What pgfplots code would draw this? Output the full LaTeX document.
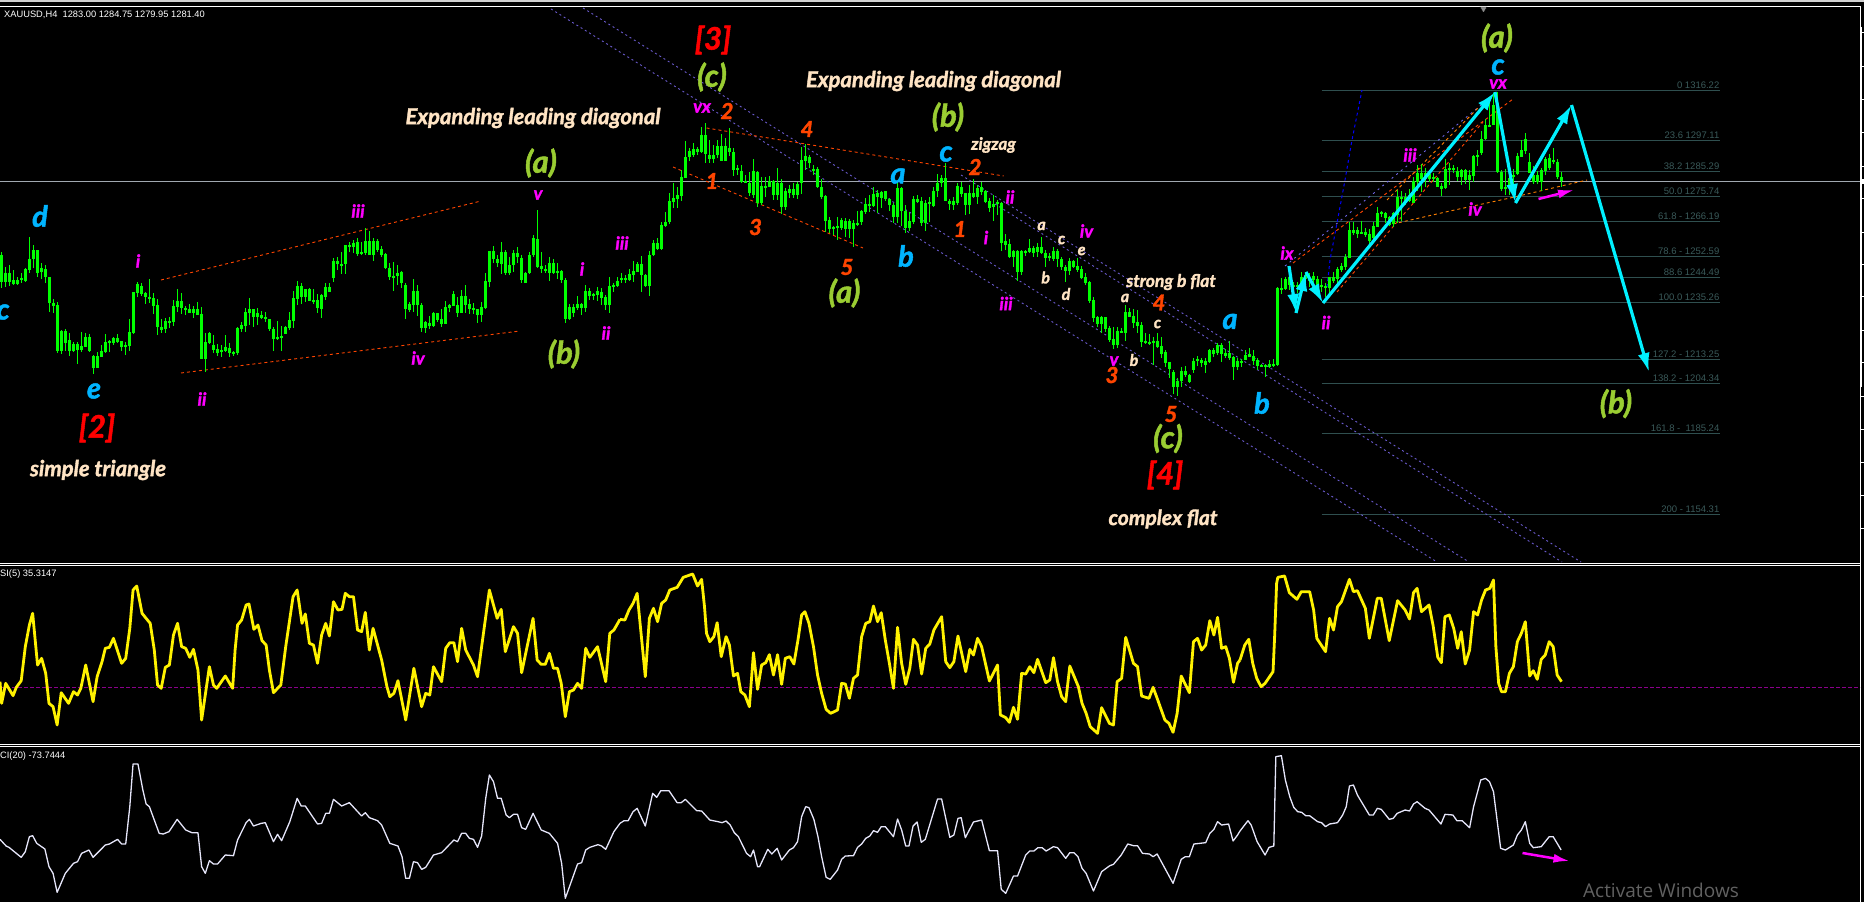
\documentclass[border=0pt]{standalone}
\usepackage{fontspec}
\usepackage{pgfplots}
\usepackage{pgfplotstable}
\usetikzlibrary{arrows.meta}
\pgfplotsset{compat=1.18}
\setmainfont{Liberation Sans}
\newfontfamily\hand{Lato}[BoldItalicFeatures={FakeBold=1.6}]
\newfontfamily\winfont{Open Sans}

\definecolor{candle}{HTML}{00FF00}
\definecolor{fib}{HTML}{2F4F4F}
\definecolor{fibtxt}{HTML}{3A5A5A}
\definecolor{orng}{HTML}{FF4500}
\definecolor{mgnt}{HTML}{FF00FF}
\definecolor{wave}{HTML}{9ACD32}
\definecolor{cream}{HTML}{FFE4C4}
\definecolor{wblue}{HTML}{00B4FF}
\definecolor{chan}{HTML}{6A5ACD}
\definecolor{arrowc}{HTML}{00F0FF}
\definecolor{level}{HTML}{8B008B}
\definecolor{cci}{HTML}{E6E6FA}
\definecolor{pline}{HTML}{A0A8B0}

% candles in screen pixels: i = bar number, hi/lo = wick, top/bot = body, d=1 for a down bar
\pgfplotstableread{
i hi lo top bot d
0 252 288 255 282 1
1 267 287 273 282 0
2 265 286 273 282 1
3 270 285 280 284 0
4 277 285 280 284 0
5 273 283 278 280 0
6 268 282 269 281 0
7 237 273 259 270 0
8 245 268 250 259 0
9 250 277 250 273 1
10 263 279 268 272 0
11 265 283 269 277 1
12 277 312 277 303 1
13 299 313 303 306 0
14 302 353 305 351 1
15 330 354 331 351 0
16 329 351 331 343 1
17 333 356 340 351 1
18 342 352 344 351 0
19 342 364 344 350 1
20 332 352 346 350 0
21 333 347 337 347 0
22 334 352 337 351 1
23 355 374 356 368 1
24 352 368 356 368 0
25 345 357 351 357 0
26 334 353 342 352 0
27 340 352 341 343 0
28 337 345 338 343 0
29 334 343 338 342 1
30 341 351 341 347 1
31 342 355 345 347 0
32 319 351 332 346 0
33 292 334 292 333 0
34 282 297 284 293 0
35 283 296 286 294 1
36 292 304 293 297 1
37 279 303 297 298 0
38 293 314 298 306 1
39 299 335 305 327 1
40 319 333 327 330 1
41 318 333 321 329 0
42 317 328 321 322 0
43 300 326 306 322 0
44 289 312 301 307 0
45 293 314 301 308 1
46 306 315 308 310 0
47 304 313 309 313 1
48 306 318 309 313 0
49 302 315 309 315 1
50 307 359 314 359 1
51 333 372 342 359 0
52 332 344 333 343 0
53 335 353 345 350 1
54 344 356 349 353 0
55 345 357 350 352 0
56 335 352 347 351 0
57 343 357 348 353 1
58 351 356 352 354 0
59 327 355 328 353 0
60 322 332 325 329 0
61 308 332 312 326 0
62 298 325 309 313 0
63 309 327 309 317 1
64 308 325 313 317 0
65 311 319 315 318 0
66 312 322 317 319 1
67 319 331 319 329 1
68 327 351 329 339 1
69 321 340 337 339 0
70 326 351 336 337 0
71 326 334 327 334 0
72 312 330 320 328 0
73 291 328 298 321 0
74 281 305 286 299 0
75 283 304 286 297 1
76 289 302 289 297 0
77 288 301 289 301 1
78 289 304 300 301 0
79 294 313 300 308 1
80 294 318 295 309 0
81 283 300 287 297 0
82 283 292 287 292 1
83 258 282 261 278 0
84 257 270 261 264 1
85 252 274 264 265 0
86 245 274 245 264 0
87 242 252 245 247 0
88 240 253 243 247 0
89 238 256 242 254 1
90 242 255 252 253 0
91 228 255 241 253 0
92 231 255 241 255 1
93 238 261 241 255 0
94 239 252 241 250 1
95 246 257 249 255 1
96 253 269 254 268 1
97 263 280 268 277 1
98 262 291 276 278 0
99 265 285 273 276 0
100 271 288 272 283 1
101 283 319 285 309 1
102 302 312 304 310 0
103 279 312 291 305 0
104 285 316 291 305 1
105 303 332 305 328 1
106 321 333 322 328 0
107 316 329 323 326 1
108 312 327 313 326 0
109 313 322 313 320 1
110 309 327 319 324 1
111 301 324 307 324 0
112 304 312 305 308 0
113 291 306 294 306 1
114 297 317 305 313 0
115 290 313 296 313 0
116 285 313 296 305 1
117 299 314 304 309 1
118 303 314 308 310 0
119 309 323 309 315 1
120 302 322 307 315 0
121 273 309 281 308 0
122 251 287 251 282 0
123 246 263 251 259 1
124 255 267 259 263 0
125 242 274 252 264 0
126 250 275 252 273 1
127 257 275 265 273 0
128 250 272 253 265 0
129 247 263 253 257 1
130 255 283 258 280 1
131 272 283 273 283 0
132 252 274 255 273 0
133 235 257 238 255 0
134 210 268 239 267 1
135 252 273 266 269 1
136 265 273 269 270 0
137 257 281 263 273 0
138 259 274 263 273 1
139 263 279 271 272 0
140 270 283 271 280 1
141 278 323 280 319 1
142 304 320 307 319 0
143 304 317 307 313 0
144 296 310 304 308 0
145 303 315 304 308 0
146 285 312 291 308 0
147 288 300 291 296 1
148 293 300 294 295 0
149 287 301 291 295 0
150 288 305 292 298 1
151 295 310 297 305 1
152 277 313 286 305 0
153 283 292 285 286 0
154 277 287 281 286 0
155 273 283 278 280 0
156 275 283 278 280 0
157 269 281 274 280 0
158 261 282 271 275 0
159 262 272 264 272 0
160 256 292 264 275 1
161 274 287 275 286 1
162 251 296 255 286 0
163 240 256 243 255 0
164 238 250 243 249 1
165 222 250 225 249 0
166 212 227 222 226 0
167 193 224 201 222 0
168 183 208 198 202 0
169 187 208 195 199 0
170 170 201 177 196 0
171 141 178 157 178 0
172 148 161 151 157 0
173 143 157 149 155 0
174 147 155 149 152 1
175 127 153 135 152 0
176 123 163 135 154 1
177 140 163 155 159 1
178 145 163 155 159 0
179 140 158 146 155 0
180 134 161 146 161 1
181 138 161 146 161 0
182 128 156 148 152 1
183 148 176 152 170 1
184 165 175 168 170 0
185 165 183 171 182 1
186 175 183 181 183 0
187 172 196 183 193 1
188 159 198 171 195 0
189 171 207 172 203 1
190 177 205 186 203 0
191 177 197 186 187 0
192 176 187 181 187 0
193 180 200 181 195 1
194 168 200 183 195 0
195 179 214 183 207 1
196 188 210 191 207 0
197 185 198 189 193 0
198 183 198 189 195 1
199 182 199 184 195 0
200 147 194 160 183 0
201 144 170 156 161 0
202 155 168 157 163 1
203 165 175 169 170 0
204 167 188 169 187 1
205 179 199 187 197 1
206 195 232 196 221 1
207 217 233 220 229 1
208 226 235 227 229 0
209 217 240 226 228 0
210 218 230 220 228 0
211 218 237 221 229 0
212 219 238 221 229 1
213 220 247 223 229 0
214 211 226 223 224 0
215 210 225 211 222 0
216 198 214 204 212 0
217 195 212 204 206 0
218 187 207 194 206 0
219 190 213 193 197 1
220 191 208 192 198 0
221 191 201 191 199 1
222 198 211 199 205 1
223 203 223 205 217 1
224 183 223 188 217 0
225 187 226 188 211 1
226 205 233 211 228 1
227 212 231 221 228 0
228 196 224 199 222 0
229 195 203 199 202 1
230 197 226 201 223 1
231 200 231 203 223 0
232 197 222 202 204 0
233 187 207 191 206 0
234 174 197 183 191 0
235 175 187 178 183 0
236 163 201 178 201 1
237 199 210 201 204 1
238 197 210 201 205 0
239 183 205 186 203 0
240 182 197 187 194 1
241 193 215 193 205 1
242 185 214 193 205 0
243 179 198 193 197 1
244 185 204 188 197 0
245 182 195 187 192 1
246 190 203 191 202 1
247 198 212 201 208 1
248 195 221 204 207 0
249 200 215 202 203 0
250 202 251 203 243 1
251 234 250 241 245 1
252 239 258 244 257 1
253 250 267 251 257 0
254 250 281 251 272 1
255 250 275 251 272 0
256 250 256 251 253 0
257 239 253 248 252 1
258 246 257 248 253 0
259 243 257 247 252 0
260 237 254 247 253 1
261 250 267 253 258 0
262 253 261 256 257 0
263 247 261 251 259 0
264 249 267 251 259 1
265 257 270 259 267 1
266 265 282 267 271 0
267 258 275 261 271 0
268 260 268 261 267 1
269 258 272 266 270 1
270 266 279 269 278 1
271 273 285 277 283 1
272 281 303 282 301 1
273 297 322 300 318 1
274 316 327 317 324 0
275 316 333 317 324 1
276 317 332 317 329 0
277 326 342 328 340 1
278 327 349 339 345 1
279 327 348 331 345 0
280 328 333 331 332 0
281 305 341 312 333 0
282 308 317 312 317 1
283 309 328 316 323 1
284 310 333 322 326 0
285 322 347 325 342 1
286 333 344 341 343 0
287 334 345 342 343 0
288 337 365 341 343 0
289 333 348 341 347 1
290 337 358 346 354 1
291 350 367 352 363 1
292 362 378 362 369 1
293 370 394 372 387 1
294 378 396 381 387 0
295 367 387 371 381 0
296 366 377 371 375 1
297 374 383 375 382 1
298 358 373 361 370 0
299 356 366 359 361 0
300 358 367 360 363 1
301 358 373 361 365 0
302 349 363 350 362 0
303 348 357 350 354 0
304 343 355 345 353 0
305 343 362 345 354 1
306 349 358 353 356 0
307 341 360 353 358 1
308 356 380 357 367 1
309 358 370 361 367 0
310 359 367 361 362 0
311 350 360 355 360 0
312 348 357 354 357 0
313 350 365 356 361 1
314 358 370 360 366 1
315 364 367 365 366 0
316 364 377 365 366 0
317 360 368 364 367 0
318 359 367 364 365 0
319 287 366 288 365 0
320 278 294 288 289 0
321 277 290 279 289 0
322 267 290 277 285 1
323 282 295 285 287 0
324 282 293 285 287 0
325 272 293 277 287 0
326 272 283 275 279 1
327 273 287 279 281 0
328 272 283 276 280 1
329 276 287 279 286 1
330 279 292 285 287 0
331 283 297 286 287 0
332 277 293 277 288 0
333 272 283 277 281 1
334 267 283 269 279 0
335 263 272 266 270 0
336 254 270 257 267 0
337 222 258 230 258 0
338 222 235 230 233 1
339 227 238 230 234 0
340 221 234 232 233 0
341 228 237 232 235 0
342 229 247 234 241 1
343 222 242 226 238 0
344 207 227 213 227 0
345 211 217 212 214 0
346 212 223 213 218 1
347 216 226 217 225 1
348 212 227 213 224 0
349 190 223 197 215 0
350 191 221 197 199 1
351 193 205 197 202 0
352 189 202 195 201 1
353 177 203 181 203 0
354 165 191 173 182 0
355 164 192 173 179 1
356 168 187 173 179 0
357 170 182 174 179 0
358 173 182 177 178 0
359 177 187 178 187 1
360 183 196 186 189 1
361 159 189 169 188 0
362 163 185 168 170 1
363 165 173 168 170 0
364 167 181 171 177 1
365 169 185 170 177 0
366 169 184 170 180 1
367 170 190 175 180 0
368 155 182 156 176 0
369 150 166 155 156 0
370 131 155 139 153 0
371 119 140 125 139 0
372 102 127 125 126 0
373 93 125 105 125 0
374 92 173 105 172 1
375 170 191 172 189 1
376 169 195 187 189 0
377 177 195 178 188 0
378 169 190 175 177 0
379 153 175 156 174 0
380 140 157 150 157 0
381 133 154 139 151 0
382 153 173 162 173 1
383 166 184 175 182 0
384 171 184 175 182 1
385 168 191 170 182 0
386 157 175 159 171 0
387 154 170 158 168 1
388 148 164 160 162 0
389 159 179 162 177 1
390 172 187 177 181 0
}\candles

% indicators as read off three screen crops (crop units, scaled in the plots)
\pgfplotstableread[row sep=crcr]{
x y\\
0 395\\4 460\\14 400\\32 437\\40 412\\52 392\\62 290\\72 225\\80 190\\92 345\\102 325\\112 370\\120 460\\130 470\\140 525\\150 428\\168 460\\180 425\\190 435\\198 415\\210 345\\228 455\\238 380\\250 335\\258 295\\268 292\\278 265\\298 340\\308 325\\318 235\\326 120\\335 108\\348 190\\368 220\\378 300\\386 405\\395 415\\405 352\\415 345\\425 255\\435 220\\445 290\\455 295\\465 322\\474 298\\485 360\\494 510\\513 350\\523 405\\531 415\\552 378\\570 415\\576 300\\582 225\\592 210\\603 165\\610 162\\622 238\\632 225\\642 272\\652 285\\660 360\\670 428\\688 405\\700 290\\718 140\\728 120\\740 220\\748 192\\758 280\\768 285\\778 340\\788 255\\798 220\\807 258\\817 155\\828 180\\838 178\\846 130\\856 140\\866 140\\876 240\\886 245\\895 187\\905 300\\914 235\\935 330\\948 410\\955 440\\965 430\\975 392\\994 510\\1014 355\\1033 470\\1043 430\\1053 435\\1062 350\\1082 395\\1092 295\\1102 278\\1112 278\\1121 335\\1131 235\\1141 300\\1160 345\\1170 380\\1190 200\\1199 120\\1218 205\\1228 178\\1238 305\\1258 230\\1268 250\\1278 368\\1306 205\\1316 330\\1326 343\\1336 343\\1346 310\\1356 355\\1366 355\\1375 400\\1385 500\\1395 425\\1405 420\\1415 400\\1425 415\\1435 295\\1445 322\\1464 290\\1484 395\\1494 250\\1504 240\\1519 208\\
}\rsiA
\pgfplotstableread[row sep=crcr]{
x y\\
0 208\\12 210\\22 180\\32 160\\42 130\\50 230\\62 380\\72 205\\82 175\\92 215\\102 160\\112 150\\122 120\\140 112\\155 82\\178 72\\190 108\\200 88\\207 170\\212 250\\220 275\\230 260\\238 218\\248 320\\260 260\\268 285\\278 378\\288 370\\296 425\\306 435\\317 470\\327 308\\337 418\\347 345\\357 338\\366 314\\376 375\\386 314\\396 403\\405 325\\416 320\\426 342\\436 270\\445 195\\453 185\\463 220\\474 290\\484 375\\494 430\\505 478\\516 490\\533 480\\543 400\\552 402\\562 445\\572 385\\582 375\\592 260\\602 220\\612 215\\621 168\\631 215\\640 188\\650 270\\660 340\\670 415\\680 232\\690 340\\700 403\\710 355\\719 268\\729 285\\739 372\\749 295\\759 282\\769 240\\788 200\\798 335\\808 353\\818 335\\828 258\\847 365\\857 298\\866 315\\876 265\\886 290\\905 393\\925 345\\932 495\\945 503\\954 517\\964 472\\974 508\\984 370\\994 372\\1004 350\\1014 368\\1023 328\\1043 398\\1053 390\\1062 323\\1072 395\\1082 440\\1092 455\\1102 348\\1123 410\\1132 460\\1142 490\\1152 530\\1170 550\\1180 473\\1199 520\\1209 525\\1218 395\\1229 385\\1239 262\\1258 340\\1268 350\\1278 438\\1296 445\\1306 412\\1316 445\\1335 510\\1345 520\\1355 547\\1365 490\\1375 378\\1395 428\\1405 275\\1415 265\\1425 300\\1435 285\\1445 212\\1455 255\\1464 202\\1474 295\\1484 290\\1493 325\\1503 397\\1513 340\\1519 330\\
}\rsiB
\pgfplotstableread[row sep=crcr]{
x y\\
0 330\\12 285\\22 268\\32 340\\42 385\\53 410\\63 400\\83 365\\87 260\\92 100\\95 82\\112 78\\124 128\\143 148\\154 125\\175 125\\185 180\\193 265\\215 305\\225 205\\235 240\\245 170\\255 155\\275 88\\285 125\\295 122\\315 175\\325 265\\345 145\\355 145\\375 272\\396 152\\415 180\\426 207\\436 128\\445 115\\456 185\\475 165\\485 225\\497 322\\506 338\\515 200\\526 195\\537 235\\547 295\\556 245\\566 342\\577 300\\587 185\\597 195\\607 150\\617 120\\628 115\\637 90\\643 290\\650 400\\657 425\\667 425\\677 370\\687 350\\697 275\\707 250\\717 215\\728 378\\737 362\\747 388\\757 328\\767 315\\777 275\\787 290\\797 375\\808 395\\
}\rsiC
\pgfplotstableread[row sep=crcr]{
x y\\
0 868\\15 888\\22 892\\52 922\\62 905\\72 860\\80 857\\90 880\\110 897\\120 950\\130 970\\140 1027\\160 970\\180 940\\190 935\\200 910\\218 900\\228 922\\258 885\\268 882\\288 868\\298 882\\308 882\\318 770\\326 642\\338 642\\350 720\\358 762\\366 770\\390 850\\400 852\\414 845\\434 808\\455 840\\470 848\\485 848\\494 950\\503 970\\513 932\\523 942\\533 942\\552 915\\572 917\\582 870\\603 818\\611 808\\621 828\\640 820\\650 818\\670 875\\680 853\\690 872\\710 815\\728 745\\738 768\\748 768\\778 822\\788 820\\798 790\\807 790\\817 748\\837 768\\856 758\\886 798\\895 788\\905 803\\925 812\\935 825\\955 880\\975 888\\985 920\\994 985\\1003 985\\1013 935\\1023 938\\1033 958\\1043 952\\1062 915\\1082 908\\1112 870\\1121 875\\1131 850\\1141 850\\1150 865\\1160 868\\1170 892\\1180 858\\1190 745\\1199 675\\1209 695\\1219 745\\1228 745\\1240 795\\1248 803\\1258 793\\1268 793\\1278 833\\1288 838\\1306 790\\1326 840\\1346 850\\1366 880\\1376 940\\1385 1045\\1415 942\\1425 938\\1435 900\\1445 892\\1465 884\\1474 888\\1484 898\\1504 845\\1519 820\\
}\cciA
\pgfplotstableread[row sep=crcr]{
x y\\
0 820\\10 812\\20 812\\32 785\\42 775\\62 828\\80 730\\90 742\\100 722\\120 722\\140 758\\150 758\\160 748\\188 782\\200 783\\220 810\\240 815\\250 818\\260 813\\270 825\\280 848\\290 860\\310 910\\320 920\\327 900\\337 950\\342 950\\362 898\\372 912\\385 895\\396 930\\415 900\\425 893\\435 875\\445 800\\455 770\\463 773\\475 808\\485 860\\494 920\\505 982\\515 988\\533 960\\543 928\\552 918\\572 917\\582 892\\592 882\\602 865\\612 858\\621 842\\631 847\\640 830\\650 830\\670 860\\680 807\\690 840\\700 888\\708 888\\718 828\\728 816\\738 877\\748 868\\778 747\\788 747\\808 862\\818 855\\828 805\\836 803\\846 863\\866 816\\886 810\\905 902\\925 902\\934 1018\\945 1030\\964 978\\974 978\\994 915\\1004 903\\1014 903\\1024 893\\1034 893\\1044 903\\1062 890\\1072 893\\1092 925\\1102 908\\1112 908\\1122 920\\1132 955\\1142 970\\1160 1023\\1180 965\\1200 947\\1209 943\\1228 915\\1244 882\\1258 887\\1268 887\\1280 910\\1297 912\\1306 920\\1316 912\\1355 1000\\1375 928\\1385 920\\1395 920\\1406 882\\1435 878\\1445 850\\1455 838\\1464 815\\1474 825\\1491 822\\1502 873\\1513 855\\1519 843\\
}\cciB
\pgfplotstableread[row sep=crcr]{
x y\\
0 843\\20 812\\28 825\\43 875\\63 915\\73 892\\85 888\\90 620\\104 617\\114 690\\125 740\\135 772\\145 785\\155 787\\165 797\\175 797\\195 815\\205 818\\215 830\\225 822\\245 818\\258 795\\267 770\\275 708\\285 705\\295 735\\325 795\\335 795\\345 775\\355 778\\375 808\\385 805\\395 790\\415 780\\426 783\\436 762\\445 755\\465 775\\475 780\\505 822\\515 793\\535 795\\545 812\\558 812\\577 833\\587 770\\605 690\\617 685\\627 695\\637 725\\655 895\\667 900\\687 885\\697 855\\707 840\\717 815\\728 880\\737 893\\757 890\\777 860\\787 860\\807 900\\
}\cciC

\pgfplotsset{
  only down/.style={x filter/.append code={%
    \edef\tempa{\thisrow{d}}\edef\tempb{1}%
    \ifx\tempa\tempb\else\def\pgfmathresult{inf}\fi}},
  only up/.style={x filter/.append code={%
    \edef\tempa{\thisrow{d}}\edef\tempb{0}%
    \ifx\tempa\tempb\else\def\pgfmathresult{inf}\fi}},
  bars/.style={draw=none, mark=none, forget plot, unbounded coords=discard,
    error bars/.cd, y dir=both, y explicit, error mark=none,
    error bar style={solid, #1}},
  dotchan/.style={chan, line width=0.9pt, dash pattern=on 2pt off 3pt, forget plot},
  dashor/.style={orng, line width=0.9pt, dash pattern=on 3pt off 3pt, forget plot},
  fibline/.style={fib, line width=1pt, forget plot},
  arrow/.style={arrowc, line width=3.2pt, forget plot, -{Latex[length=19pt,width=12pt]}},
  marrow/.style={mgnt, line width=2.5pt, forget plot, -{Latex[length=16pt,width=9pt]}},
}

\tikzset{
  ui/.style={inner sep=0pt, font=\fontsize{9.3}{11}\selectfont},
  fibt/.style={inner sep=0pt, anchor=south east, text=fibtxt, font=\fontsize{9.5}{11}\selectfont},
  big/.style={inner sep=0pt, font=\hand\bfseries\itshape\fontsize{31}{33}\selectfont},
  grn/.style={big, text=wave},
  red/.style={inner sep=0pt, text=red, font=\hand\bfseries\itshape\fontsize{31}{33}\selectfont},
  blu/.style={inner sep=0pt, text=wblue, font=\hand\bfseries\itshape\fontsize{29}{31}\selectfont},
  num/.style={inner sep=0pt, text=orng, font=\hand\bfseries\itshape\fontsize{22}{24}\selectfont},
  rom/.style={inner sep=0pt, text=mgnt, font=\hand\bfseries\itshape\fontsize{18}{20}\selectfont},
  sml/.style={inner sep=0pt, text=cream, font=\hand\bfseries\itshape\fontsize{16}{18}\selectfont},
  note/.style={inner sep=0pt, text=cream, font=\hand\bfseries\itshape\fontsize{#1}{24}\selectfont},
}

\begin{document}
\begin{tikzpicture}
\begin{axis}[
  scale only axis, width=1864pt, height=902pt,
  xmin=0, xmax=1864, ymin=0, ymax=902, y dir=reverse,
  axis line style={draw=none}, xtick=\empty, ytick=\empty,
  axis background/.style={fill=black},
]

% window frame and panel rules
\addplot[white!82!black, line width=2.5pt, forget plot] coordinates {(0,1.2) (1864,1.2)};
\addplot[white, line width=1pt, forget plot] coordinates {(0,6.5) (1860,6.5) (1860,902)};
\addplot[white, line width=1pt, forget plot] coordinates {(0,563.5) (1860,563.5)};
\addplot[white, line width=1pt, forget plot] coordinates {(0,565.5) (1860,565.5)};
\addplot[white, line width=1pt, forget plot] coordinates {(0,744.5) (1860,744.5)};
\addplot[white, line width=1pt, forget plot] coordinates {(0,746.5) (1860,746.5)};
\addplot[white, line width=2pt, forget plot] coordinates {(1861,27) (1861,387)};
\addplot[white, only marks, mark=-, mark size=2pt, forget plot] coordinates {(1862,32) (1862,66) (1862,99) (1862,132) (1862,166) (1862,198) (1862,232) (1862,264) (1862,296) (1862,330) (1862,362) (1862,396) (1862,429) (1862,462) (1862,495) (1862,528)};
\addplot[white, line width=5pt, forget plot] coordinates {(1860,181.5) (1864,181.5)};
\addplot[only marks, mark=triangle*, mark size=4pt, mark options={rotate=180, fill=white!55!black, draw=none}, forget plot] coordinates {(1483.5,9)};

% fibonacci levels
\addplot[fibline] coordinates {(1321.6,90.5) (1719.5,90.5)};
\addplot[fibline] coordinates {(1321.6,140.5) (1719.5,140.5)};
\addplot[fibline] coordinates {(1321.6,171.5) (1719.5,171.5)};
\addplot[fibline] coordinates {(1321.6,196.5) (1719.5,196.5)};
\addplot[fibline] coordinates {(1321.6,221.5) (1719.5,221.5)};
\addplot[fibline] coordinates {(1321.6,256.5) (1719.5,256.5)};
\addplot[fibline] coordinates {(1321.6,277.5) (1719.5,277.5)};
\addplot[fibline] coordinates {(1321.6,302.5) (1719.5,302.5)};
\addplot[fibline] coordinates {(1321.6,359.5) (1719.5,359.5)};
\addplot[fibline] coordinates {(1321.6,383.5) (1719.5,383.5)};
\addplot[fibline] coordinates {(1321.6,433.5) (1719.5,433.5)};
\addplot[fibline] coordinates {(1321.6,514.5) (1719.5,514.5)};

% price line and rsi level
\addplot[pline, line width=1pt, forget plot] coordinates {(0,181.5) (1860,181.5)};
\addplot[level, line width=1pt, dash pattern=on 4pt off 2pt, forget plot] coordinates {(0,687.5) (1860,687.5)};

% downward channel
\addplot[dotchan] coordinates {(583,8) (1469,562)};
\addplot[dotchan] coordinates {(551,9) (1437,562)};
\addplot[dotchan] coordinates {(961,175) (1581,562)};
\addplot[dotchan] coordinates {(995,204) (1562,562)};

% diagonals
\addplot[dashor] coordinates {(161,280) (481,201)};
\addplot[dashor] coordinates {(181,373) (520,331)};
\addplot[dashor] coordinates {(706.5,128) (1003.7,176)};
\addplot[dashor] coordinates {(673,167) (863,248)};

% right hand wedge
\addplot[blue, line width=1pt, dash pattern=on 3pt off 3pt, forget plot] coordinates {(1327,287) (1330,260) (1337,223) (1345,180) (1352,140) (1362,90)};
\addplot[chan!70!blue!80!white, line width=0.9pt, dash pattern=on 2pt off 4pt, forget plot] coordinates {(1285,266) (1497,92)};
\addplot[dashor] coordinates {(1293,263) (1513,99)};
\addplot[dashor] coordinates {(1337,292) (1483,122)};
\addplot[orange, line width=0.9pt, dash pattern=on 3pt off 3pt, forget plot] coordinates {(1387,200) (1478,108)};
\addplot[orange, line width=0.9pt, dash pattern=on 3pt off 3pt, forget plot] coordinates {(1393,224) (1450,211) (1510,198) (1587,180)};

% candles
\addplot[bars={draw=candle, line width=1pt}]
  table[x expr={1.5+4*\thisrow{i}}, y expr={(\thisrow{hi}+\thisrow{lo})/2}, y error expr={(\thisrow{lo}-\thisrow{hi})/2}] {\candles};
\addplot[bars={draw=candle, line width=3pt}]
  table[x expr={1.5+4*\thisrow{i}}, y expr={(\thisrow{top}+\thisrow{bot})/2}, y error expr={(\thisrow{bot}-\thisrow{top})/2}] {\candles};
\addplot[only up, bars={draw=black, line width=1pt}]
  table[x expr={1.5+4*\thisrow{i}}, y expr={(\thisrow{top}+\thisrow{bot})/2}, y error expr={max((\thisrow{bot}-\thisrow{top})/2-1,0)}] {\candles};
\addplot[only down, bars={draw=white, line width=1pt}]
  table[x expr={1.5+4*\thisrow{i}}, y expr={(\thisrow{top}+\thisrow{bot})/2}, y error expr={max((\thisrow{bot}-\thisrow{top})/2-1,0)}] {\candles};

% rsi
\addplot[yellow, line width=2.8pt, line join=round, forget plot] table[x expr={\thisrow{x}/2.45}, y expr={550+\thisrow{y}/3}] {\rsiA};
\addplot[yellow, line width=2.8pt, line join=round, forget plot] table[x expr={620+\thisrow{x}/2.45}, y expr={550+\thisrow{y}/3}] {\rsiB};
\addplot[yellow, line width=2.8pt, line join=round, forget plot] table[x expr={1240+\thisrow{x}/2.513}, y expr={550+\thisrow{y}/3}] {\rsiC};
% cci
\addplot[cci, line width=1.3pt, line join=round, forget plot] table[x expr={\thisrow{x}/2.45}, y expr={550+\thisrow{y}/3}] {\cciA};
\addplot[cci, line width=1.3pt, line join=round, forget plot] table[x expr={620+\thisrow{x}/2.45}, y expr={550+\thisrow{y}/3}] {\cciB};
\addplot[cci, line width=1.3pt, line join=round, forget plot] table[x expr={1240+\thisrow{x}/2.513}, y expr={550+\thisrow{y}/3}] {\cciC};

% forecast arrows
\addplot[arrow] coordinates {(1289,266) (1296,313)};
\addplot[arrow] coordinates {(1296,313) (1306,272)};
\addplot[arrow] coordinates {(1306,272) (1323,303)};
\addplot[arrow] coordinates {(1323,303) (1495,92)};
\addplot[arrow] coordinates {(1495,92) (1515.5,203)};
\addplot[arrow] coordinates {(1515.5,203) (1571.5,105)};
\addplot[arrow] coordinates {(1571.5,105) (1649,372)};
\addplot[marrow] coordinates {(1538.5,199) (1574,190)};
\addplot[marrow] coordinates {(1522.5,853) (1569.5,861)};

% window texts
\node[ui, anchor=west, text=white] at (axis cs:4,14.5) {XAUUSD,H4\ \ 1283.00 1284.75 1279.95 1281.40};
\node[ui, anchor=west, text=white] at (axis cs:0,574.5) {SI(5) 35.3147};
\node[ui, anchor=west, text=white] at (axis cs:0,756.5) {CI(20) -73.7444};
\node[inner sep=0pt, anchor=west, text=white!38!black, font=\winfont\fontsize{19}{21}\selectfont] at (axis cs:1583,890) {Activate Windows};

% fibonacci labels
\node[fibt] at (axis cs:1719.5,88.5) {0 1316.22};
\node[fibt] at (axis cs:1719.5,138.5) {23.6 1297.11};
\node[fibt] at (axis cs:1719.5,169.5) {38.2 1285.29};
\node[fibt] at (axis cs:1719.5,194.5) {50.0 1275.74};
\node[fibt] at (axis cs:1719.5,219.5) {61.8 - 1266.19};
\node[fibt] at (axis cs:1719.5,254.5) {78.6 - 1252.59};
\node[fibt] at (axis cs:1719.5,275.5) {88.6 1244.49};
\node[fibt] at (axis cs:1719.5,300.5) {100.0 1235.26};
\node[fibt] at (axis cs:1719.5,357.5) {127.2 - 1213.25};
\node[fibt] at (axis cs:1719.5,381.5) {138.2 - 1204.34};
\node[fibt] at (axis cs:1719.5,431.5) {161.8 -\ \ 1185.24};
\node[fibt] at (axis cs:1719.5,512.5) {200 - 1154.31};

% wave counts
\node[blu] at (axis cs:40,216) {d};
\node[blu, overlay] at (axis cs:3,312) {c};
\node[blu] at (axis cs:94,391) {e};
\node[red] at (axis cs:97,428) {[2]};
\node[note=22] at (axis cs:98,470) {simple triangle};
\node[rom] at (axis cs:138,261) {i};
\node[rom] at (axis cs:202,399) {ii};
\node[rom] at (axis cs:358,211) {iii};
\node[rom] at (axis cs:418,358) {iv};
\node[rom] at (axis cs:538,195) {v};
\node[rom] at (axis cs:582,269) {i};
\node[rom] at (axis cs:606,333) {ii};
\node[rom] at (axis cs:622,243) {iii};
\node[grn] at (axis cs:541,163) {(a)};
\node[grn] at (axis cs:564,354) {(b)};
\node[note=22] at (axis cs:533,118) {Expanding leading diagonal};

\node[red] at (axis cs:713,40) {[3]};
\node[grn] at (axis cs:712,77) {(c)};
\node[rom] at (axis cs:702,108) {vx};
\node[num] at (axis cs:727,111) {2};
\node[num] at (axis cs:807,129) {4};
\node[num] at (axis cs:712,181) {1};
\node[num] at (axis cs:755.5,227) {3};
\node[num] at (axis cs:847,267) {5};
\node[grn] at (axis cs:844.5,293) {(a)};
\node[blu] at (axis cs:898,176) {a};
\node[blu] at (axis cs:906,256) {b};
\node[blu] at (axis cs:946,154) {c};
\node[num] at (axis cs:975,167) {2};
\node[num] at (axis cs:960,229) {1};
\node[note=17] at (axis cs:993.5,145) {zigzag};
\node[grn] at (axis cs:948,117) {(b)};
\node[note=22] at (axis cs:933.5,81) {Expanding leading diagonal};
\node[rom] at (axis cs:1010,197) {ii};
\node[rom] at (axis cs:986,237.5) {i};
\node[rom] at (axis cs:1086.5,231) {iv};
\node[rom] at (axis cs:1006,303.5) {iii};
\node[sml] at (axis cs:1041.6,226) {a};
\node[sml] at (axis cs:1061.6,240) {c};
\node[sml] at (axis cs:1081.6,251) {e};
\node[sml] at (axis cs:1045.7,277.5) {b};
\node[sml] at (axis cs:1066,294) {d};
\node[note=17.5] at (axis cs:1171,282) {strong b flat};
\node[sml] at (axis cs:1125,298) {a};
\node[num] at (axis cs:1159,302.5) {4};
\node[sml] at (axis cs:1157.5,324) {c};
\node[rom] at (axis cs:1114,361) {v};
\node[num] at (axis cs:1112,375) {3};
\node[sml] at (axis cs:1134,360) {b};
\node[num] at (axis cs:1171,414) {5};
\node[grn] at (axis cs:1168,438.5) {(c)};
\node[red] at (axis cs:1165,475) {[4]};
\node[note=21] at (axis cs:1163,519) {complex flat};
\node[blu] at (axis cs:1230,321.5) {a};

\node[blu] at (axis cs:1262,403) {b};
\node[rom] at (axis cs:1287,253) {ix};
\node[rom] at (axis cs:1326,322.5) {ii};
\node[rom] at (axis cs:1410,155) {iii};
\node[rom] at (axis cs:1475,209) {iv};
\node[rom] at (axis cs:1498,84) {vx};
\node[blu] at (axis cs:1498,67) {c};
\node[grn] at (axis cs:1497,38) {(a)};
\node[grn] at (axis cs:1616,403.6) {(b)};

\end{axis}
\end{tikzpicture}
\end{document}
